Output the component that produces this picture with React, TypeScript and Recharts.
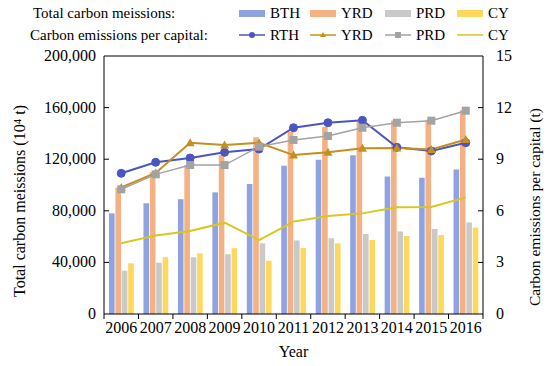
import {
  ComposedChart,
  Bar,
  Line,
  XAxis,
  YAxis,
  ReferenceLine,
  Label,
} from "recharts";

const years = ["2006", "2007", "2008", "2009", "2010", "2011", "2012", "2013", "2014", "2015", "2016"];

// total carbon emissions (10^4 t)
const bthTotal = [78000, 85800, 89000, 94300, 100800, 115000, 119500, 123000, 106500, 105700, 112000];
const yrdTotal = [98000, 110000, 115500, 123000, 137000, 141000, 145000, 149000, 150000, 150500, 158000];
const prdTotal = [33600, 39800, 44000, 46300, 54800, 57000, 58700, 62000, 64000, 65900, 71000];
const cyTotal = [39300, 44000, 47000, 51000, 41300, 51200, 54800, 57400, 60500, 61200, 67000];

// carbon emissions per capita (t)
const bthPer = [8.18, 8.82, 9.07, 9.4, 9.59, 10.83, 11.12, 11.26, 9.69, 9.48, 9.96];
const yrdPer = [7.36, 8.2, 9.96, 9.83, 9.96, 9.24, 9.4, 9.63, 9.65, 9.57, 10.15];
const prdPer = [7.25, 8.12, 8.66, 8.66, 9.73, 10.12, 10.35, 10.83, 11.12, 11.24, 11.82];
const cyPer = [4.11, 4.57, 4.83, 5.31, 4.3, 5.37, 5.7, 5.85, 6.2, 6.22, 6.78];

const leftTicks = [0, 40000, 80000, 120000, 160000, 200000];
const rightTicks = [0, 3, 6, 9, 12, 15];

const data = years.map((year, i) => ({
  year,
  bthTotal: bthTotal[i],
  yrdTotal: yrdTotal[i],
  prdTotal: prdTotal[i],
  cyTotal: cyTotal[i],
  bthPer: bthPer[i],
  yrdPer: yrdPer[i],
  prdPer: prdPer[i],
  cyPer: cyPer[i],
}));

const FONT = "'Liberation Serif', 'Times New Roman', serif";

const BAR_COLORS = ["#8fa3e0", "#f4b183", "#c9c9c9", "#fcd85e"];
const LINE_COLORS = ["#4a55c2", "#c3901f", "#a3a3a3", "#d9c61e"];

const W = 550;
const H = 366;
const MARGIN = { top: 56, right: 27, bottom: 22, left: 4 };
const LEFT_AXIS_W = 100;
const RIGHT_AXIS_W = 40;
const BAND = (W - MARGIN.left - MARGIN.right - LEFT_AXIS_W - RIGHT_AXIS_W) / years.length;

const XTick = (props: any) => {
  const { x, y, payload, index } = props;
  const axisY = y - 6;
  return (
    <g>
      <line x1={x - BAND / 2} x2={x - BAND / 2} y1={axisY} y2={axisY + 5} stroke="#000" />
      {index === years.length - 1 && (
        <line x1={x + BAND / 2} x2={x + BAND / 2} y1={axisY} y2={axisY + 5} stroke="#000" />
      )}
      <text x={x} y={y + 13} textAnchor="middle" fontSize={16} fontFamily={FONT} fill="#000">
        {payload.value}
      </text>
    </g>
  );
};

const LeftTick = (props: any) => {
  const { x, y, payload } = props;
  const axisX = x + 8;
  return (
    <g>
      {payload.value !== 0 && payload.value !== 200000 && (
        <line x1={axisX} x2={axisX + 5} y1={y} y2={y} stroke="#000" />
      )}
      <text x={x} y={y + 5} textAnchor="end" fontSize={16} fontFamily={FONT} fill="#000">
        {payload.value.toLocaleString("en-US")}
      </text>
    </g>
  );
};

const RightTick = (props: any) => {
  const { x, y, payload } = props;
  const axisX = x - 13;
  return (
    <g>
      {payload.value !== 0 && payload.value !== 15 && (
        <line x1={axisX} x2={axisX - 5} y1={y} y2={y} stroke="#000" />
      )}
      <text x={x} y={y + 5} textAnchor="start" fontSize={16} fontFamily={FONT} fill="#000">
        {payload.value}
      </text>
    </g>
  );
};

const CircleDot = (props: any) => {
  const { cx, cy, index } = props;
  return <circle key={`c${index}`} cx={cx} cy={cy} r={4} fill={LINE_COLORS[0]} stroke={LINE_COLORS[0]} />;
};

const TriangleDot = (props: any) => {
  const { cx, cy, index } = props;
  return (
    <polygon
      key={`t${index}`}
      points={`${cx},${cy - 4.5} ${cx - 4.5},${cy + 3.5} ${cx + 4.5},${cy + 3.5}`}
      fill={LINE_COLORS[1]}
    />
  );
};

const SquareDot = (props: any) => {
  const { cx, cy, index } = props;
  return <rect key={`s${index}`} x={cx - 4} y={cy - 4} width={8} height={8} fill={LINE_COLORS[2]} />;
};

const legendNames = ["BTH", "YRD", "PRD", "CY"];
const lineLegendNames = ["RTH", "YRD", "PRD", "CY"];
const legendX = [239, 310, 385, 457];

function LegendOverlay() {
  return (
    <svg
      width={W}
      height={48}
      style={{ position: "absolute", left: 0, top: 0, pointerEvents: "none" }}
    >
      <text x={33} y={18} fontSize={15} fontFamily={FONT} fill="#000">
        Total carbon meissions:
      </text>
      <text x={30} y={40} fontSize={15} fontFamily={FONT} fill="#000">
        Carbon emissions per capital:
      </text>
      {legendNames.map((name, i) => (
        <g key={`b${name}`}>
          <rect x={legendX[i]} y={10} width={26} height={7} fill={BAR_COLORS[i]} />
          <text x={legendX[i] + 31} y={18} fontSize={15} fontFamily={FONT} fill="#000">
            {name}
          </text>
        </g>
      ))}
      {lineLegendNames.map((name, i) => {
        const x0 = legendX[i];
        const cx = x0 + 13;
        return (
          <g key={`l${name}${i}`}>
            <line x1={x0} x2={x0 + 26} y1={35} y2={35} stroke={LINE_COLORS[i]} strokeWidth={1.5} />
            {i === 0 && <circle cx={cx} cy={35} r={3} fill={LINE_COLORS[0]} />}
            {i === 1 && (
              <polygon points={`${cx},${32} ${cx - 3},${37} ${cx + 3},${37}`} fill={LINE_COLORS[1]} />
            )}
            {i === 2 && <rect x={cx - 3} y={32} width={6} height={6} fill={LINE_COLORS[2]} />}
            <text x={x0 + 31} y={40} fontSize={15} fontFamily={FONT} fill="#000">
              {name}
            </text>
          </g>
        );
      })}
    </svg>
  );
}

export default function App() {
  return (
    <div style={{ position: "absolute", left: 0, top: 0, width: W, height: H, background: "#fff" }}>
      <ComposedChart width={W} height={H} data={data} margin={MARGIN} barSize={5.6} barGap={0.8}>
        <XAxis
          dataKey="year"
          stroke="#000"
          tickLine={false}
          tickSize={0}
          tickMargin={6}
          height={30}
          interval={0}
          tick={<XTick />}
        >
          <Label
            content={(p: any) => {
              const vb = p.viewBox;
              return (
                <text
                  x={vb.x + vb.width / 2}
                  y={357}
                  textAnchor="middle"
                  fontSize={16}
                  fontFamily={FONT}
                  fill="#000"
                >
                  Year
                </text>
              );
            }}
          />
        </XAxis>
        <YAxis
          yAxisId="left"
          width={LEFT_AXIS_W}
          domain={[0, 200000]}
          ticks={leftTicks}
          stroke="#000"
          tickLine={false}
          tickSize={0}
          tickMargin={8}
          tick={<LeftTick />}
          interval={0}
        >
          <Label
            content={(p: any) => {
              const vb = p.viewBox;
              const cx = 19;
              const cy = vb.y + vb.height / 2 + 16;
              return (
                <text
                  x={cx}
                  y={cy}
                  transform={`rotate(-90 ${cx} ${cy})`}
                  textAnchor="middle"
                  dominantBaseline="central"
                  fontSize={16}
                  fontFamily={FONT}
                  fill="#000"
                >
                  Total carbon meissions (10⁴ t)
                </text>
              );
            }}
          />
        </YAxis>
        <YAxis
          yAxisId="right"
          orientation="right"
          width={RIGHT_AXIS_W}
          domain={[0, 15]}
          ticks={rightTicks}
          stroke="#000"
          tickLine={false}
          tickSize={0}
          tickMargin={13}
          tick={<RightTick />}
          interval={0}
        >
          <Label
            content={(p: any) => {
              const vb = p.viewBox;
              const cx = 534;
              const cy = vb.y + vb.height / 2 + 22;
              return (
                <text
                  x={cx}
                  y={cy}
                  transform={`rotate(-90 ${cx} ${cy})`}
                  textAnchor="middle"
                  dominantBaseline="central"
                  fontSize={15.5}
                  fontFamily={FONT}
                  fill="#000"
                >
                  Carbon emissions per capital (t)
                </text>
              );
            }}
          />
        </YAxis>
        <ReferenceLine yAxisId="left" y={200000} stroke="#000" />

        <Bar yAxisId="left" dataKey="bthTotal" fill={BAR_COLORS[0]} isAnimationActive={false} />
        <Bar yAxisId="left" dataKey="yrdTotal" fill={BAR_COLORS[1]} isAnimationActive={false} />
        <Bar yAxisId="left" dataKey="prdTotal" fill={BAR_COLORS[2]} isAnimationActive={false} />
        <Bar yAxisId="left" dataKey="cyTotal" fill={BAR_COLORS[3]} isAnimationActive={false} />

        <Line
          yAxisId="right"
          dataKey="bthPer"
          stroke={LINE_COLORS[0]}
          strokeWidth={2}
          dot={CircleDot}
          activeDot={false}
          isAnimationActive={false}
        />
        <Line
          yAxisId="right"
          dataKey="yrdPer"
          stroke={LINE_COLORS[1]}
          strokeWidth={2}
          dot={TriangleDot}
          activeDot={false}
          isAnimationActive={false}
        />
        <Line
          yAxisId="right"
          dataKey="prdPer"
          stroke={LINE_COLORS[2]}
          strokeWidth={1.5}
          dot={SquareDot}
          activeDot={false}
          isAnimationActive={false}
        />
        <Line
          yAxisId="right"
          dataKey="cyPer"
          stroke={LINE_COLORS[3]}
          strokeWidth={2}
          dot={false}
          activeDot={false}
          isAnimationActive={false}
        />
      </ComposedChart>
      <LegendOverlay />
    </div>
  );
}
